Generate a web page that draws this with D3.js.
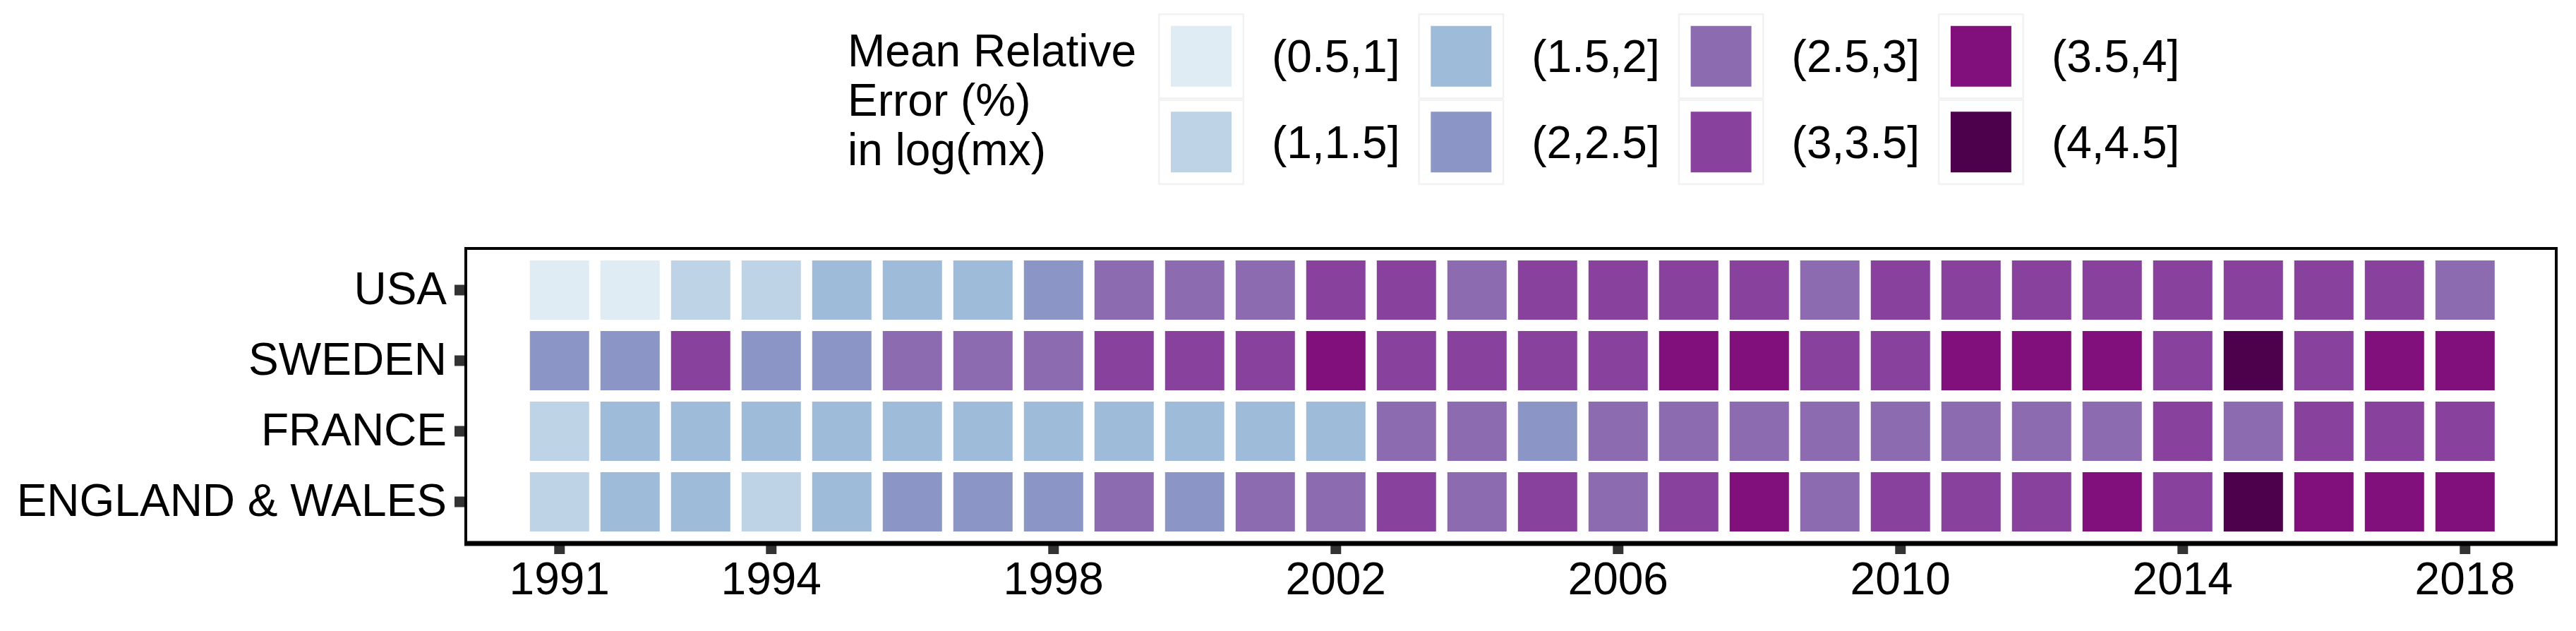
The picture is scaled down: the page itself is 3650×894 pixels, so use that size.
<!DOCTYPE html>
<html>
<head>
<meta charset="utf-8">
<style>
    body { margin: 0; background: #fff; }
    svg { display: block; font-family: 'Liberation Sans', Arial, Helvetica, sans-serif; }
</style>
</head>
<body>
<svg width="3650" height="894"></svg>
<script src="https://d3js.org/d3.v7.min.js"></script>
<script>
// error classes (bins of mean relative error, %)
const bins = ["(0.5,1]", "(1,1.5]", "(1.5,2]", "(2,2.5]", "(2.5,3]", "(3,3.5]", "(3.5,4]", "(4,4.5]"];
const binColors = ["#e0ecf4", "#bfd3e6", "#9ebcda", "#8c96c6", "#8c6bb1", "#88419d", "#810f7c", "#4d004b"];

const years = d3.range(1991, 2019);
const countries = ["USA", "SWEDEN", "FRANCE", "ENGLAND & WALES"];
const yearTicks = [1991, 1994, 1998, 2002, 2006, 2010, 2014, 2018];

// bin index (0 = "(0.5,1]" ... 7 = "(4,4.5]") per year 1991..2018
const usa     = [0,0,1,1,2,2,2,3,4,4,4,5,5,4,5,5,5,5,4,5,5,5,5,5,5,5,5,4];
const sweden  = [3,3,5,3,3,4,4,4,5,5,5,6,5,5,5,5,6,6,5,5,6,6,6,5,7,5,6,6];
const france  = [1,2,2,2,2,2,2,2,2,2,2,2,4,4,3,4,4,4,4,4,4,4,4,5,4,5,5,5];
const engWales= [1,2,2,1,2,3,3,3,4,3,4,4,5,4,5,4,5,6,4,5,5,5,6,5,7,6,6,6];

const seriesByCountry = { "USA": usa, "SWEDEN": sweden, "FRANCE": france, "ENGLAND & WALES": engWales };

const cells = [];
countries.forEach(c => {
    seriesByCountry[c].forEach((b, i) => cells.push({ country: c, year: years[i], bin: bins[b] }));
});

const svg = d3.select("svg");
const fontSize = 64;

let panel = { left: 660, right: 3622, top: 352, bottom: 770 };

let x = d3.scaleBand()
    .domain(years)
    .range([panel.left, panel.right])
    .paddingInner(0.16)
    .paddingOuter(0.89)
    .align(0.51);

let y = d3.scaleBand()
    .domain(countries)
    .range([panel.top, panel.bottom])
    .paddingInner(0.16)
    .paddingOuter(0.17);

let color = d3.scaleOrdinal()
    .domain(bins)
    .range(binColors);

// tiles
svg.append("g")
    .selectAll("rect")
    .data(cells)
    .join("rect")
    .attr("x", d => x(d.year))
    .attr("y", d => y(d.country))
    .attr("width", x.bandwidth())
    .attr("height", y.bandwidth())
    .attr("fill", d => color(d.bin));

// x axis
let xAxis = d3.axisBottom(x)
    .tickValues(yearTicks)
    .tickSize(15)
    .tickPadding(12);

svg.append("g")
    .attr("transform", `translate(0,${panel.bottom})`)
    .call(xAxis)
    .call(g => g.select(".domain").remove())
    .call(g => g.selectAll(".tick line").attr("stroke", "#333").attr("stroke-width", 15))
    .call(g => g.selectAll(".tick text")
        .attr("fill", "#000")
        .attr("font-size", fontSize)
        .attr("font-family", "'Liberation Sans', Arial, sans-serif"));

// y axis
let yAxis = d3.axisLeft(y)
    .tickSize(16)
    .tickPadding(11);

svg.append("g")
    .attr("transform", `translate(${panel.left},0)`)
    .call(yAxis)
    .call(g => g.select(".domain").remove())
    .call(g => g.selectAll(".tick line").attr("stroke", "#333").attr("stroke-width", 15))
    .call(g => g.selectAll(".tick text")
        .attr("fill", "#000")
        .attr("font-size", fontSize)
        .attr("font-family", "'Liberation Sans', Arial, sans-serif"));

// panel border
svg.append("rect")
    .attr("x", panel.left)
    .attr("y", panel.top)
    .attr("width", panel.right - panel.left)
    .attr("height", panel.bottom - panel.top)
    .attr("fill", "none")
    .attr("stroke", "#000")
    .attr("stroke-width", 4);

svg.append("line")
    .attr("x1", panel.left - 2)
    .attr("x2", panel.right + 2)
    .attr("y1", panel.bottom)
    .attr("y2", panel.bottom)
    .attr("stroke", "#000")
    .attr("stroke-width", 7);

// legend
let legend = svg.append("g");

let titleLines = ["Mean Relative", "Error (%)", "in log(mx)"];
legend.append("text")
    .attr("font-size", fontSize)
    .selectAll("tspan")
    .data(titleLines)
    .join("tspan")
    .attr("x", 1201)
    .attr("y", (d, i) => 94 + i * 70)
    .text(d => d);

let keyW = 122, keyH = 121.5, fillSize = 86, colStep = 368.3;
let keyLeft = 1641, keyTop = 19;

let keys = legend.selectAll("g.key")
    .data(bins)
    .join("g")
    .attr("class", "key")
    .attr("transform", (d, i) => {
        let col = Math.floor(i / 2), row = i % 2;
        return `translate(${keyLeft + col * colStep},${keyTop + row * keyH})`;
    });

keys.append("rect")
    .attr("width", keyW)
    .attr("height", keyH)
    .attr("fill", "#f2f2f2");

keys.append("rect")
    .attr("x", 2.5)
    .attr("y", 2.5)
    .attr("width", keyW - 5)
    .attr("height", keyH - 5)
    .attr("fill", "#fff");

keys.append("rect")
    .attr("x", (keyW - fillSize) / 2)
    .attr("y", (keyH - fillSize) / 2)
    .attr("width", fillSize)
    .attr("height", fillSize)
    .attr("fill", d => color(d));

keys.append("text")
    .attr("x", 161)
    .attr("y", keyH / 2)
    .attr("dy", "0.35em")
    .attr("font-size", fontSize)
    .text(d => d);
</script>
</body>
</html>
